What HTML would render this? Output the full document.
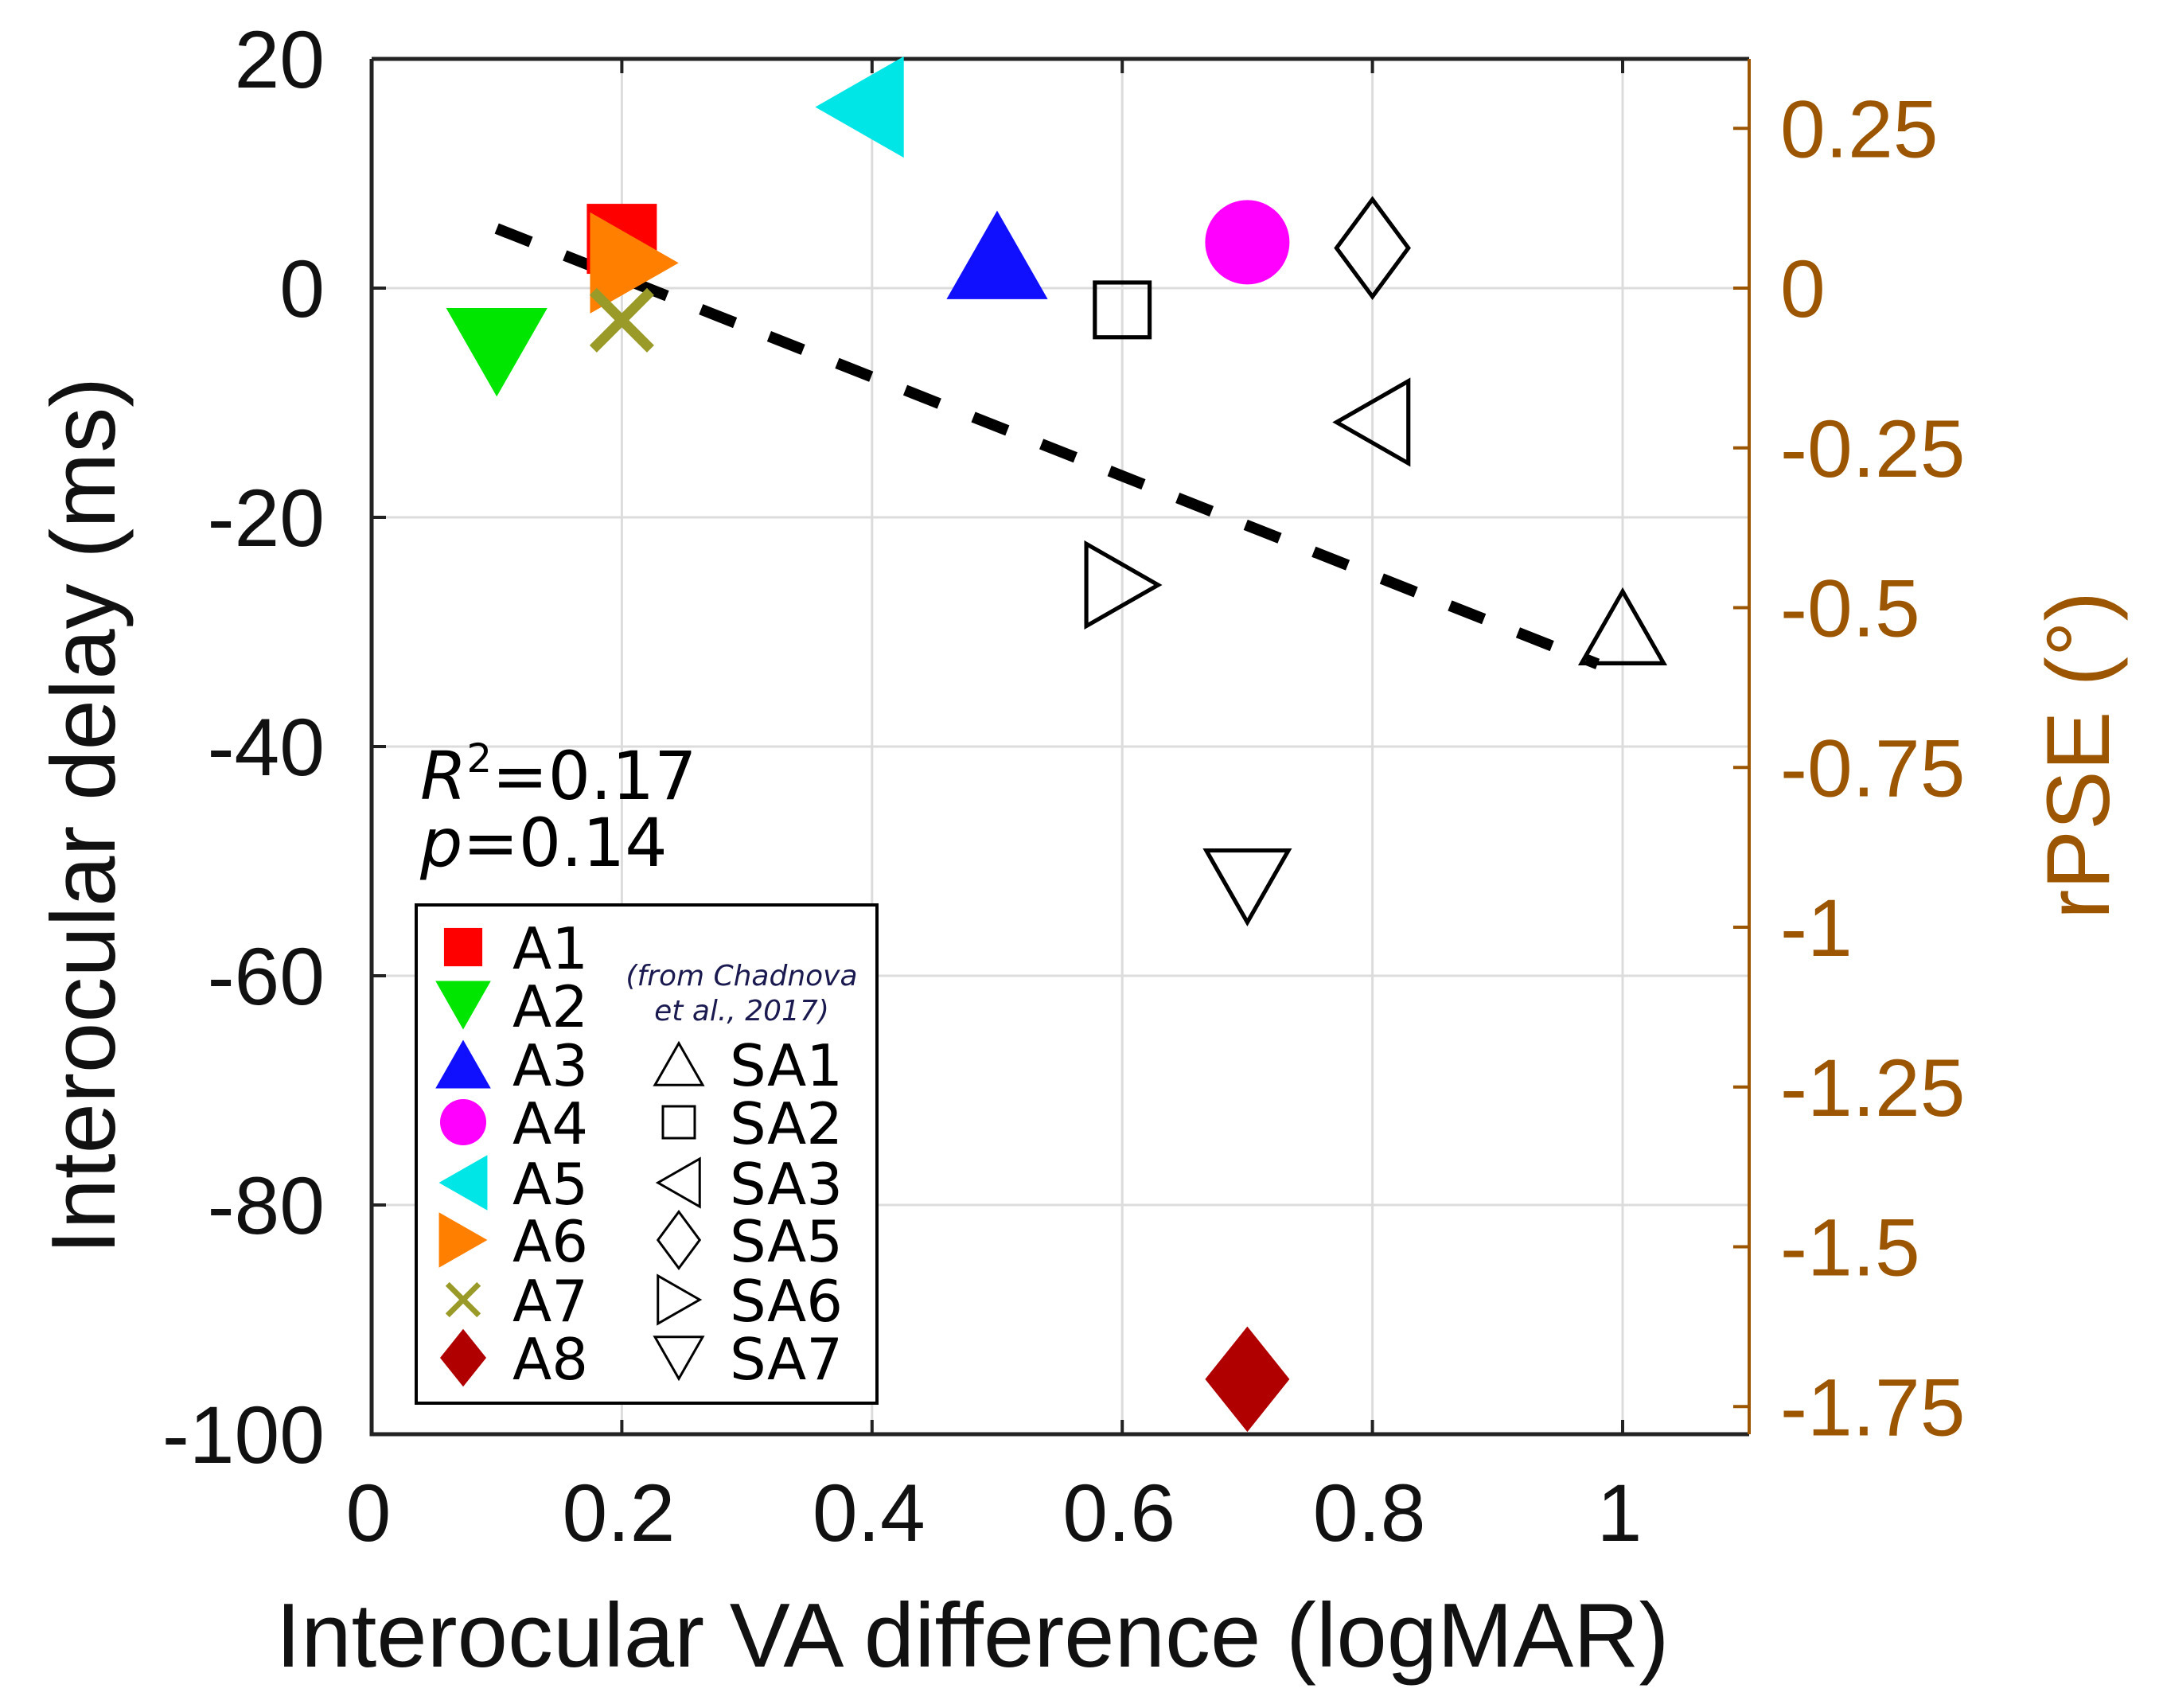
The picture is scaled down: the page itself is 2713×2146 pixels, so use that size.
<!DOCTYPE html>
<html><head><meta charset="utf-8"><style>
html,body{margin:0;padding:0;background:#fff;}
svg{display:block;}
</style></head><body>
<svg id="chart" width="2713" height="2146" viewBox="0 0 2713 2146" xmlns="http://www.w3.org/2000/svg">
<g id="grid"></g>
<g id="axes"></g>
<g id="fit"></g>
<g id="marks"></g>
<text x="528" y="1004" font-family="DejaVu Sans, sans-serif" font-size="84" fill="#000"><tspan font-style="italic">R</tspan><tspan font-size="50" dy="-34">2</tspan><tspan dy="34">=0.17</tspan></text>
<text x="528" y="1088" font-family="DejaVu Sans, sans-serif" font-size="84" fill="#000"><tspan font-style="italic">p</tspan>=0.14</text>
<g id="legend"></g>
<text x="1222" y="2094" text-anchor="middle" font-family="Liberation Sans, sans-serif" font-size="114" fill="#111">Interocular VA difference (logMAR)</text>
<text transform="translate(144,1025) rotate(-90)" text-anchor="middle" font-family="Liberation Sans, sans-serif" font-size="114" fill="#111">Interocular delay (ms)</text>
<text transform="translate(2650,949) rotate(-90)" text-anchor="middle" font-family="Liberation Sans, sans-serif" font-size="112" fill="#9c5500">rPSE (°)</text>
</svg>
<script>
const xTicks=[0,0.2,0.4,0.6,0.8,1];
const xTickLabels=["0","0.2","0.4","0.6","0.8","1"];
const yTicks=[20,0,-20,-40,-60,-80,-100];
const yTickLabels=["20","0","-20","-40","-60","-80","-100"];
const rTicks=[0.25,0,-0.25,-0.5,-0.75,-1,-1.25,-1.5,-1.75];
const rTickLabels=["0.25","0","-0.25","-0.5","-0.75","-1","-1.25","-1.5","-1.75"];
const names=["A1","A2","A3","A4","A5","A6","A7","A8","SA1","SA2","SA3","SA5","SA6","SA7"];
const xVals=[0.2,0.1,0.5,0.7,0.39,0.21,0.2,0.7,1.0,0.6,0.8,0.8,0.6,0.7];
const yVals=[4.3,-5.6,2.9,4.0,15.8,2.2,-2.8,-95.2,-29.6,-1.9,-11.7,3.5,-25.9,-52.2];
const shapes=["square","tdown","tup","circle","tleft","tright","x","diamond","tup","square","tleft","diamond","tright","tdown"];
const colors=["#ff0000","#00e600","#1010ff","#ff00ff","#00e5e5","#ff8000","#9a9a28","#b00000","none","none","none","none","none","none"];
const fitX=[0.1,0.98];
const fitY=[5.2,-32.8];

const X0=467,XK=1572,Y0=362,YK=14.4,RK=803;
const L=467,R=2198,T=74,B=1802;
const sx=v=>X0+v*XK, sy=v=>Y0-v*YK, sr=v=>Y0-v*RK;
const NS="http://www.w3.org/2000/svg";
function mk(tag,attrs,parent){const e=document.createElementNS(NS,tag);for(const k in attrs)e.setAttribute(k,attrs[k]);parent.appendChild(e);return e;}
const grid=document.getElementById('grid'),axes=document.getElementById('axes'),marks=document.getElementById('marks'),fit=document.getElementById('fit'),leg=document.getElementById('legend');

xTicks.forEach((t,i)=>{
  const x=sx(t);
  if(t>0){const g=mk('line',{x1:x,x2:x,y1:T,y2:B,stroke:'#dcdcdc','stroke-width':3},grid);
  
  }
  const tk1=mk('line',{x1:x,x2:x,y1:B,y2:B-18,stroke:'#222','stroke-width':4},axes);
  
  
  const tk2=mk('line',{x1:x,x2:x,y1:T,y2:T+18,stroke:'#222','stroke-width':4},axes);
  
  
  const lb=mk('text',{x:x-4,y:1936,'text-anchor':'middle','font-family':'Liberation Sans, sans-serif','font-size':102,fill:'#111'},axes);
  lb.textContent=xTickLabels[i];
  
  
});
yTicks.forEach((t,i)=>{
  const y=sy(t);
  if(t<20&&t>-100){const g=mk('line',{x1:L,x2:R,y1:y,y2:y,stroke:'#dcdcdc','stroke-width':3},grid);
  
  }
  const tk=mk('line',{x1:L,x2:L+18,y1:y,y2:y,stroke:'#222','stroke-width':4},axes);
  
  
  const lb=mk('text',{x:408,y:y+36,'text-anchor':'end','font-family':'Liberation Sans, sans-serif','font-size':102,fill:'#111'},axes);
  lb.textContent=yTickLabels[i];
  
  
});
rTicks.forEach((t,i)=>{
  const y=sr(t);
  const tk=mk('line',{x1:R,x2:R-20,y1:y,y2:y,stroke:'#9c5500','stroke-width':4},axes);
  
  
  const lb=mk('text',{x:2237,y:y+36,'font-family':'Liberation Sans, sans-serif','font-size':102,fill:'#9c5500'},axes);
  lb.textContent=rTickLabels[i];
  
  
});
const frame=mk('path',{d:`M${L},${T} L${R},${T} M${L},${T} L${L},${B} L${R},${B}`,stroke:'#222','stroke-width':5,fill:'none'},axes);


const rax=mk('line',{x1:R,x2:R,y1:T,y2:B,stroke:'#9c5500','stroke-width':4},axes);



const fl=mk('line',{x1:sx(fitX[0]),y1:sy(fitY[0]),x2:sx(fitX[1]),y2:sy(fitY[1]),stroke:'#000','stroke-width':14,'stroke-dasharray':'46 46'},fit);



function marker(shape,cx,cy,s,color,parent){
  const filled=color!=='none';
  const st=filled?{fill:color,stroke:'none'}:{fill:'none',stroke:'#000','stroke-width':Math.max(3,s*0.06)};
  const h=s/2; let e;
  if(shape==='square'){const a=filled?h*0.83:h*0.8;e=mk('rect',Object.assign({x:cx-a,y:cy-a,width:2*a,height:2*a},st),parent);}
  else if(shape==='circle'){e=mk('ellipse',Object.assign({cx:cx,cy:cy,rx:h,ry:h},st),parent);}
  else if(shape==='diamond'){const w=filled?h:h*1.05,v=filled?h*1.25:h*1.42;e=mk('polygon',Object.assign({points:`${cx},${cy-v} ${cx+w},${cy} ${cx},${cy+v} ${cx-w},${cy}`},st),parent);}
  else if(shape==='tup'){const w=h*1.2,v=h*1.05;e=mk('polygon',Object.assign({points:`${cx},${cy-v} ${cx+w},${cy+v} ${cx-w},${cy+v}`},st),parent);}
  else if(shape==='tdown'){const w=h*1.2,v=h*1.05;e=mk('polygon',Object.assign({points:`${cx},${cy+v} ${cx+w},${cy-v} ${cx-w},${cy-v}`},st),parent);}
  else if(shape==='tleft'){const w=h*1.05,v=h*1.2;e=mk('polygon',Object.assign({points:`${cx-w},${cy} ${cx+w},${cy-v} ${cx+w},${cy+v}`},st),parent);}
  else if(shape==='tright'){const w=h*1.05,v=h*1.2;e=mk('polygon',Object.assign({points:`${cx+w},${cy} ${cx-w},${cy-v} ${cx-w},${cy+v}`},st),parent);}
  else if(shape==='x'){const a=h*0.68;e=mk('path',{d:`M${cx-a},${cy-a} L${cx+a},${cy+a} M${cx+a},${cy-a} L${cx-a},${cy+a}`,stroke:color,'stroke-width':s*0.12,fill:'none'},parent);}
  return e;
}
names.forEach((n,i)=>{
  const open=colors[i]==='none';
  const e=marker(shapes[i],sx(xVals[i]),sy(yVals[i]),open?86:106,colors[i],marks);
  
  
});

// legend
const box=mk('rect',{x:523,y:1137,width:579,height:626,fill:'#fff',stroke:'#000','stroke-width':4},leg);


const rowY=[1190,1263,1337,1410,1486,1558,1633,1706];
names.forEach((n,i)=>{
  const a=i<8;
  const cy=a?rowY[i]:rowY[i-6];
  const mx=a?582:853, tx=a?644:917;
  const m=marker(shapes[i],mx,cy,a?58:50,colors[i],leg);
  
  
  const t=mk('text',{x:tx,y:cy+27,'font-family':'DejaVu Sans, sans-serif','font-size':72,fill:'#000'},leg);
  t.textContent=n;
  
  
});
const n1=mk('text',{x:932,y:1238,'text-anchor':'middle','font-family':'DejaVu Sans, sans-serif','font-size':36,'font-style':'italic',fill:'#1a1a50'},leg);
n1.textContent='(from Chadnova';


const n2=mk('text',{x:932,y:1282,'text-anchor':'middle','font-family':'DejaVu Sans, sans-serif','font-size':36,'font-style':'italic',fill:'#1a1a50'},leg);
n2.textContent='et al., 2017)';


</script>
</body></html>
